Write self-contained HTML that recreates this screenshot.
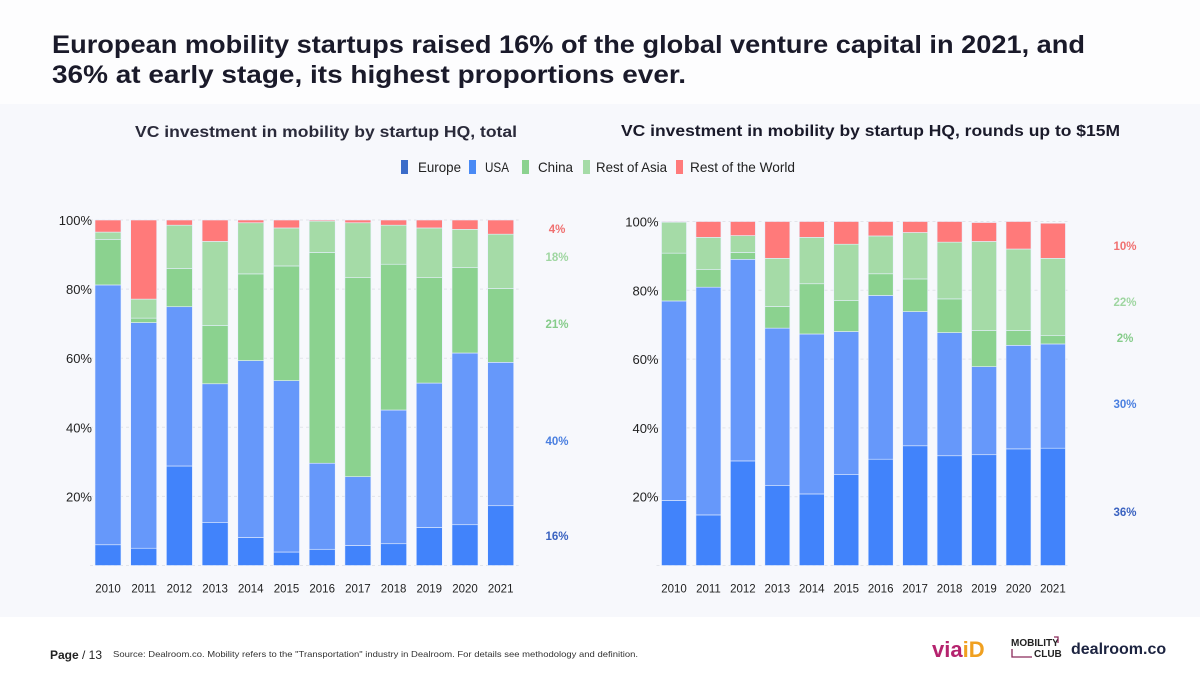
<!DOCTYPE html>
<html><head><meta charset="utf-8">
<style>
body{margin:0;width:1200px;height:675px;overflow:hidden;background:#fff;font-family:"Liberation Sans",sans-serif;}
svg text{font-family:"Liberation Sans",sans-serif;}
</style></head>
<body>
<svg id="s" width="1200" height="675" viewBox="0 0 1200 675">
<rect x="0" y="0" width="1200" height="675" fill="#ffffff"/>
<rect x="0" y="0" width="1200" height="104" fill="#fdfdfe"/>
<rect x="0" y="104" width="1200" height="513" fill="#f7f8fc"/>
<text x="52" y="53" font-size="25" font-weight="bold" fill="#1a1a2a" textLength="1033" lengthAdjust="spacingAndGlyphs">European mobility startups raised 16% of the global venture capital in 2021, and</text>
<text x="52" y="83" font-size="25" font-weight="bold" fill="#1a1a2a" textLength="634" lengthAdjust="spacingAndGlyphs">36% at early stage, its highest proportions ever.</text>
<text x="135" y="137" font-size="16" font-weight="bold" fill="#2a2a3a" textLength="382" lengthAdjust="spacingAndGlyphs">VC investment in mobility by startup HQ, total</text>
<text x="621" y="136" font-size="16" font-weight="bold" fill="#1a1a2a" textLength="499" lengthAdjust="spacingAndGlyphs">VC investment in mobility by startup HQ, rounds up to $15M</text>
<g id="legend"></g>
<g id="left"></g>
<g id="right"></g>
<text x="50" y="659" font-size="12" font-weight="bold" fill="#222">Page <tspan font-weight="normal">/ 13</tspan></text>
<text x="113" y="657" font-size="8.5" fill="#333" textLength="525" lengthAdjust="spacingAndGlyphs">Source: Dealroom.co.  Mobility refers to the "Transportation" industry in Dealroom. For details see methodology and definition.</text>
<text x="932" y="657" font-size="22" font-weight="bold" fill="#b5236e">via<tspan fill="#f0a020">iD</tspan></text>
<g>
<text x="1011" y="646" font-size="10" font-weight="bold" fill="#222">MOBILITY</text>
<text x="1034" y="657" font-size="10" font-weight="bold" fill="#222">CLUB</text>
<path d="M1054 637 h4 v6 M1012 649 v8 h20" stroke="#8a2a5a" stroke-width="1.3" fill="none"/>
</g>
<text x="1071" y="654" font-size="16" font-weight="bold" fill="#1c2340">dealroom.co</text>
</svg>
<script>
const categories=["2010","2011","2012","2013","2014","2015","2016","2017","2018","2019","2020","2021"];
const seriesNames=["Europe","USA","China","Rest of Asia","Rest of the World"];
const seriesColors=["#4183fb","#6698fa","#8bd28f","#a5dba7","#ff7a7a"];
const leftEurope=[6,5,28.8,12.5,8.1,3.9,4.7,5.8,6.3,11,11.8,17.3];
const leftUSA=[75.2,65.3,46.1,40.1,51.2,49.6,24.9,19.9,38.7,41.8,49.7,41.5];
const leftChina=[13.2,1.3,11.1,16.9,25.1,33.2,61,57.6,42.2,30.5,24.7,21.4];
const leftRestAsia=[2.1,5.5,12.5,24.3,14.8,11,9.1,15.9,11.3,14.4,11.1,15.7];
const leftRestWorld=[3.5,22.9,1.5,6.2,0.8,2.3,0.3,0.8,1.5,2.3,2.7,4.1];
const rightEurope=[18.9,14.7,30.4,23.2,20.8,26.4,30.9,34.8,31.9,32.2,33.9,34.1];
const rightUSA=[58,66.2,58.6,45.8,46.5,41.6,47.6,39,35.8,25.6,30.1,30.3];
const rightChina=[13.9,5.1,2,6.3,14.6,9,6.3,9.5,9.8,10.5,4.3,2.4];
const rightRestAsia=[9,9.4,4.9,14,13.5,16.4,11,13.5,16.5,25.9,23.7,22.5];
const rightRestWorld=[0.2,4.6,4.1,10.7,4.6,6.6,4.2,3.2,6,5.5,8,10.2];
const yTicks=[20,40,60,80,100];
const leftAnnotations=["4%","18%","21%","40%","16%"];
const rightAnnotations=["10%","22%","2%","30%","36%"];
const annotationColors=["#f07070","#9fd6a1","#86cc8a","#4a7fe0","#3a62c0"];
const NS="http://www.w3.org/2000/svg";
function mk(tag,attrs,parent){const e=document.createElementNS(NS,tag);for(const k in attrs)e.setAttribute(k,attrs[k]);parent.appendChild(e);return e;}

function drawChart(g,series,cfg,annotations,annY){
  const yScale=v=>cfg.y0-(cfg.y0-cfg.y100)*v/100;
  const xScale=i=>cfg.x0+i*cfg.step;
  yTicks.forEach(t=>{
    const ln=mk("line",{x1:cfg.x0-5,x2:xScale(11)+cfg.bw+5,y1:yScale(t),y2:yScale(t),stroke:"#e2e4ea","stroke-dasharray":"3,3"},g);
    
    
    const tx=mk("text",{x:cfg.x0-3,y:yScale(t)+5,"font-size":13,fill:"#222","text-anchor":"end"},g);
    tx.textContent=t+"%";
    
    
  });
  const base=mk("line",{x1:cfg.x0-5,x2:xScale(11)+cfg.bw+5,y1:yScale(0),y2:yScale(0),stroke:"#e2e4ea","stroke-dasharray":"3,3"},g);
  
  
  categories.forEach((c,i)=>{
    let cum=0;
    series.forEach((arr,si)=>{
      const v=arr[i];
      const r=mk("rect",{x:xScale(i),y:yScale(cum+v),width:cfg.bw,height:Math.max(0,yScale(cum)-yScale(cum+v)),fill:seriesColors[si],stroke:"#e8f0ff","stroke-width":0.6},g);
      
      
      cum+=v;
    });
    const tx=mk("text",{x:xScale(i)+cfg.bw/2,y:cfg.y0+27,"font-size":11.5,fill:"#222","text-anchor":"middle"},g);
    tx.textContent=c;
    
    
  });
  annotations.forEach((a,i)=>{
    const tx=mk("text",{x:cfg.ax,y:annY[i],"font-size":11.5,"font-weight":"bold",fill:annotationColors[i],"text-anchor":"middle"},g);
    tx.textContent=a;
    
    
  });
}
drawChart(document.getElementById("left"),[leftEurope,leftUSA,leftChina,leftRestAsia,leftRestWorld],
 {x0:95,step:35.7,bw:26,y0:565.5,y100:220,ax:557},leftAnnotations,[233,261,328,445,540]);
drawChart(document.getElementById("right"),[rightEurope,rightUSA,rightChina,rightRestAsia,rightRestWorld],
 {x0:661.5,step:34.45,bw:25,y0:565.5,y100:221.5,ax:1125},rightAnnotations,[250,306,342,408,516]);

const lg=document.getElementById("legend");
const legendSwatchColors=["#3b6cc9","#4a8af5","#8bd28f","#a5dba7","#ff7a7a"];
const lx=[401,469,522,583,676];
const ltx=[418,485,538,596,690];
const lw=[43,24,35,71,105];
seriesNames.forEach((n,i)=>{
  const r=mk("rect",{x:lx[i],y:160,width:7,height:14,fill:legendSwatchColors[i]},lg);
  
  
  const t=mk("text",{x:ltx[i],y:172,"font-size":14,fill:"#222",textLength:lw[i],lengthAdjust:"spacingAndGlyphs"},lg);
  t.textContent=n;
  
  
});
</script>
</body></html>
